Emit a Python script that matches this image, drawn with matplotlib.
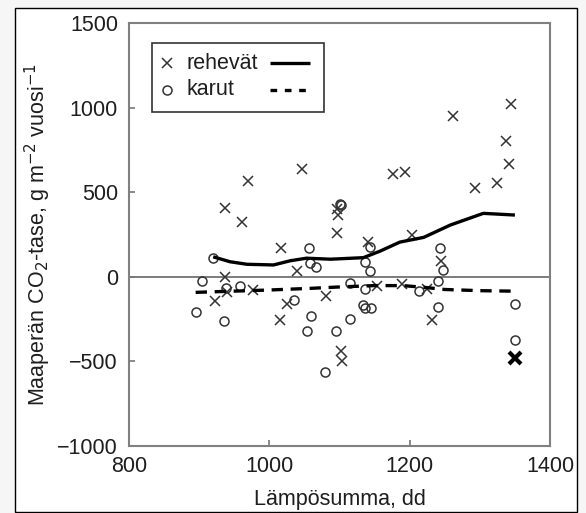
import matplotlib
matplotlib.use("Agg")
import matplotlib.pyplot as plt
from matplotlib.patches import Rectangle

plt.rcParams["font.family"] = ["Liberation Sans", "DejaVu Sans"]

# rehevät kasvupaikat (x)
rehevat_x = [937, 961, 969, 1046, 1016, 1040, 937, 922, 939, 977, 1015, 1025,
             1081, 1097, 1098, 1097, 1102, 1103, 1140, 1153, 1176, 1194, 1189,
             1204, 1224, 1232, 1245, 1262, 1293, 1325, 1338, 1342, 1345]
rehevat_y = [404, 325, 567, 636, 173, 35, 0, -145, -88, -80, -257, -160,
             -115, 402, 363, 260, -438, -500, 205, -55, 606, 618, -45,
             249, -72, -253, 95, 950, 525, 555, 803, 665, 1020]

# korostettu piste oikeassa alakulmassa
korostus_x = [1350]
korostus_y = [-477]

# karut kasvupaikat (o)
karut_x = [920, 904, 896, 935, 938, 958, 1035, 1057, 1058, 1066, 1059, 1053,
           1095, 1080, 1100, 1102, 1115, 1115, 1134, 1137, 1145, 1137, 1144,
           1144, 1137, 1213, 1240, 1243, 1248, 1240, 1350, 1350]
karut_y = [112, -22, -208, -262, -68, -52, -137, 170, 83, 58, -234, -318,
           -322, -565, 432, 422, -250, -36, -165, -185, -185, 90, 36,
           175, -75, -85, -25, 172, 40, -178, -158, -375]

# trendiviivat
trendi_r_x = [920, 944, 968, 1006, 1030, 1053, 1087, 1134, 1158, 1186, 1220, 1258, 1305, 1350]
trendi_r_y = [118, 89, 74, 70, 95, 110, 104, 113, 152, 205, 233, 306, 375, 365]
trendi_k_x = [895, 940, 1000, 1060, 1100, 1150, 1190, 1220, 1250, 1300, 1350]
trendi_k_y = [-92, -86, -78, -68, -60, -52, -52, -62, -75, -82, -85]

xticks = [800, 1000, 1200, 1400]
yticks = [-1000, -500, 0, 500, 1000, 1500]

fs = 15.5
ink = "#1e1e1e"
mk = "#333333"

fig = plt.figure(figsize=(5.86, 5.13), dpi=100, facecolor="#f6f6f6")
kehys = Rectangle((15 / 586, 1 / 513), 562 / 586, 504 / 513,
                  transform=fig.transFigure, facecolor="white",
                  edgecolor="black", linewidth=1.0, zorder=-10)
fig.patches.append(kehys)
ax = fig.add_axes([129 / 586, 1 - 446 / 513, 421 / 586, 423 / 513])
ax.set_zorder(5)
ax.set_facecolor("white")

ax.axhline(0, color="#666666", lw=1.2, zorder=1)

ax.plot(rehevat_x, rehevat_y, ls="none", marker="x", ms=7, mew=1.1, color=mk, zorder=3)
ax.plot(korostus_x, korostus_y, ls="none", marker="x", ms=8, mew=3, color="black", zorder=3)
ax.plot(karut_x, karut_y, ls="none", marker="o", ms=6.5, mew=1.1, mfc="none", mec=mk, zorder=3)
ax.plot(trendi_r_x, trendi_r_y, color="black", lw=2.4, solid_capstyle="butt", zorder=4)
ax.plot(trendi_k_x, trendi_k_y, color="black", lw=2.4, dashes=(3.4, 2.3), zorder=4)

ax.set_xlim(800, 1400)
ax.set_ylim(-1000, 1500)
ax.set_xticks(xticks)
ax.set_yticks(yticks)
ax.tick_params(direction="in", length=4, width=1.2, color="#777777",
               labelsize=fs, labelcolor=ink, top=False, right=False)
ax.tick_params(axis="y", pad=8)
ax.tick_params(axis="x", pad=7)
for sp in ax.spines.values():
    sp.set_color("#808080")
    sp.set_linewidth(1.5)

ax.set_xlabel("Lämpösumma, dd", fontsize=fs, color=ink, labelpad=9)
ax.set_ylabel("Maaperän CO$_2$-tase, g m$^{-2}$ vuosi$^{-1}$", fontsize=fs,
              color=ink, labelpad=3)

# selite
ax.add_patch(Rectangle((0.054, 0.790), 0.409, 0.163, transform=ax.transAxes,
                       facecolor="white", edgecolor="#333333", lw=1.2, zorder=5))
rivit = [(0.905, "x", "rehevät", "-"), (0.842, "o", "karut", "--")]
for yy, m, teksti, tyyli in rivit:
    if m == "o":
        ax.plot([0.090], [yy], marker="o", ms=6.5, mew=1.1, mfc="none", mec=mk,
                transform=ax.transAxes, zorder=6)
    else:
        ax.plot([0.090], [yy], marker="x", ms=7, mew=1.1, color=mk,
                transform=ax.transAxes, zorder=6)
    ax.text(0.136, yy, teksti, transform=ax.transAxes, fontsize=fs, color=ink,
            va="center", ha="left", zorder=6)
    if tyyli == "-":
        ax.plot([0.335, 0.430], [yy, yy], color="black", lw=2.4,
                solid_capstyle="butt", transform=ax.transAxes, zorder=6)
    else:
        ax.plot([0.335, 0.430], [yy, yy], color="black", lw=2.4, dashes=(2.0, 2.3),
                transform=ax.transAxes, zorder=6)

fig.savefig("out.png", dpi=100, facecolor=fig.get_facecolor())
